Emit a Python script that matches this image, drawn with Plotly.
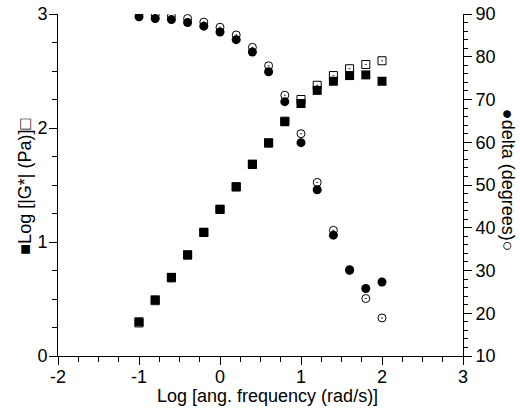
import plotly.graph_objects as go

log_freq = [-1.0, -0.8, -0.6, -0.4, -0.2, 0.0, 0.2, 0.4, 0.6, 0.8, 1.0, 1.2, 1.4, 1.6, 1.8, 2.0]

# Log |G*| (Pa)
logG_filled = [0.30, 0.493, 0.69, 0.888, 1.086, 1.288, 1.485, 1.683, 1.87, 2.055, 2.215, 2.33, 2.41, 2.46, 2.466, 2.41]
logG_open = [0.29, 0.485, 0.685, 0.885, 1.083, 1.285, 1.483, 1.68, 1.868, 2.06, 2.25, 2.375, 2.46, 2.52, 2.557, 2.59]

# delta (degrees)
delta_filled = [89.35, 88.95, 88.7, 88.0, 87.15, 85.8, 84.0, 81.1, 76.5, 69.5, 59.9, 48.9, 38.26, 30.2, 25.8, 27.3]
delta_open = [90.1, 89.8, 89.5, 88.95, 88.1, 86.9, 85.1, 82.2, 77.9, 71.0, 62.0, 50.6, 39.4, 30.0, 23.45, 18.9]

fig = go.Figure()

fig.add_trace(go.Scatter(x=log_freq, y=logG_open, mode="markers",
                         marker=dict(symbol="square-open-dot", size=8, color="black",
                                     line=dict(width=1, color="black")),
                         yaxis="y", showlegend=False))
fig.add_trace(go.Scatter(x=log_freq, y=delta_open, mode="markers",
                         marker=dict(symbol="circle-open-dot", size=8, color="black",
                                     line=dict(width=1, color="black")),
                         yaxis="y2", showlegend=False))
fig.add_trace(go.Scatter(x=log_freq, y=logG_filled, mode="markers",
                         marker=dict(symbol="square", size=9, color="black",
                                     line=dict(width=0)),
                         yaxis="y", showlegend=False))
fig.add_trace(go.Scatter(x=log_freq, y=delta_filled, mode="markers",
                         marker=dict(symbol="circle", size=9, color="black",
                                     line=dict(width=0)),
                         yaxis="y2", showlegend=False))

FAM = "Arial, Liberation Sans, Helvetica, sans-serif"
font = dict(family=FAM, size=18, color="black")
tfont = dict(family=FAM, size=18, color="black")

L, R, T, B = 58, 463, 14, 356.5
W, H = 520, 411
PW, PH = R - L, B - T


def px(x):
    return (x - L) / PW


def py(y):
    return (B - y) / PH


axis_common = dict(showgrid=False, zeroline=False, showline=True, linecolor="black", linewidth=1,
                   ticks="outside", ticklen=8, tickcolor="black", tickwidth=1, tickfont=font,
                   automargin=False, ticklabeloverflow="allow")

fig.update_layout(
    width=W, height=H,
    margin=dict(l=L, r=W - R, t=T, b=H - B, pad=0),
    plot_bgcolor="white", paper_bgcolor="white",
    font=font,
    xaxis=dict(range=[-2, 3], tickvals=[-2, -1, 0, 1, 2, 3], ticktext=["-2", "-1", "0", "1", "2", "3"],
               ticklabelstandoff=-4,
               minor=dict(dtick=0.25, ticks="outside", ticklen=5, tickcolor="black", tickwidth=1, showgrid=False),
               **axis_common),
    yaxis=dict(range=[0, 3], tickvals=[0, 1, 2, 3], ticklabelstandoff=-2,
               minor=dict(dtick=0.25, ticks="outside", ticklen=5, tickcolor="black", tickwidth=1, showgrid=False),
               **axis_common),
    yaxis2=dict(range=[10, 90], tickvals=[10, 20, 30, 40, 50, 60, 70, 80, 90],
                overlaying="y", side="right", anchor="x",
                minor=dict(dtick=2, ticks="outside", ticklen=4, tickcolor="black", tickwidth=1, showgrid=False),
                **axis_common),
    annotations=[
        dict(text="Log [ang. frequency (rad/s)]", xref="paper", yref="paper",
             x=px(267), y=py(397), xanchor="center", yanchor="middle",
             showarrow=False, font=tfont),
        dict(text="■Log [|G*| (Pa)]□", textangle=-90, xref="paper", yref="paper",
             x=px(25), y=py(187), xanchor="center", yanchor="middle",
             showarrow=False, font=tfont),
        dict(text="●delta (degrees)○", textangle=90, xref="paper", yref="paper",
             x=px(508), y=py(180), xanchor="center", yanchor="middle",
             showarrow=False, font=tfont),
    ],
)

fig.write_html("out.html", config={"displayModeBar": False},
               post_script="document.body.style.margin='0px';document.body.style.overflow='hidden';")
